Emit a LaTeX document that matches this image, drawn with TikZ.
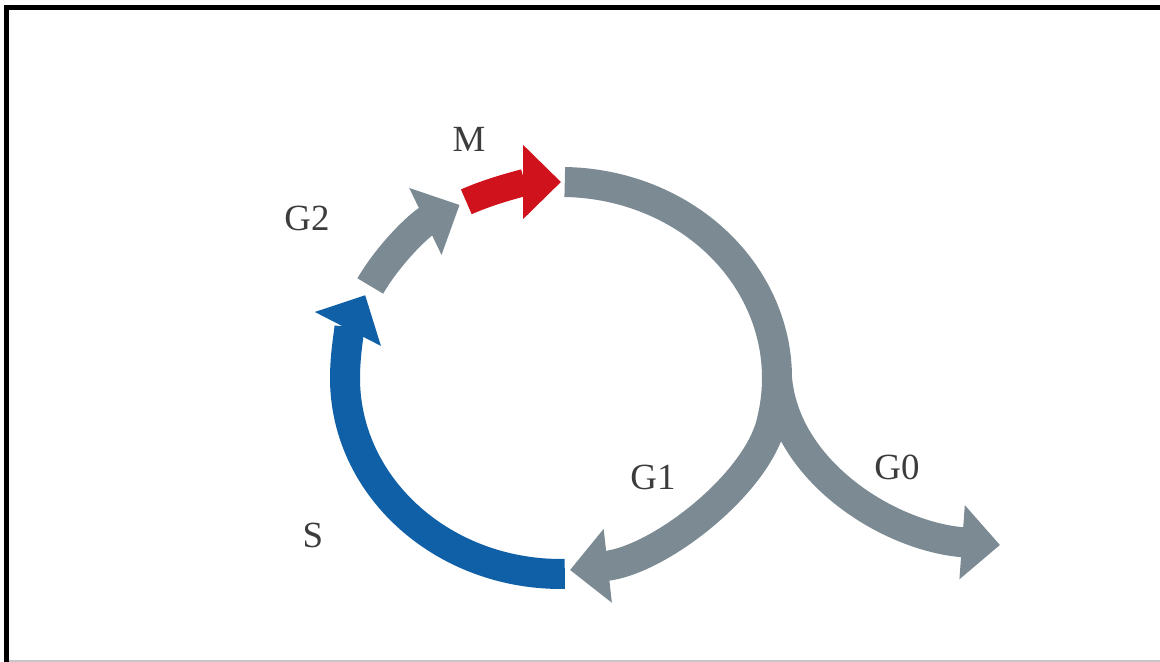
\documentclass[tikz,border=0pt]{standalone}
\usepackage{fontspec}
\setmainfont{Liberation Serif}
\usetikzlibrary{arrows.meta}

\definecolor{phasegray}{RGB}{124,139,147}
\definecolor{phaseblue}{RGB}{16,96,168}
\definecolor{phasered}{RGB}{208,18,28}
\definecolor{labelgray}{RGB}{60,60,60}

\begin{document}
\begin{tikzpicture}[x=0.02cm, y=0.02cm,
        band/.style={line width=0.6cm, -{Triangle[width=1.44cm,length=0.76cm]}},
        phase/.style={font=\fontsize{21}{25}\selectfont, text=labelgray}]
        \useasboundingbox (0,0) rectangle (1160,662);

        % Frame
        \draw[line width=0.1cm] (6.5,0) -- (6.5,654.5) -- (1160,654.5);
        \draw[gray!45, line width=0.04cm] (9,1) -- (1160,1);

        % Points on the cycle
        \coordinate (O) at (561,284);
        \path (O) ++(89:216 and 196) coordinate (g1start);
        \path (O) ++(0:216 and 196) coordinate (g0start);
        \path (O) ++(-89:216 and 196) coordinate (sstart);
        \path (O) ++(152:216 and 196) coordinate (g2start);
        \path (O) ++(116:216 and 196) coordinate (mstart);
        \coordinate (g1tip) at (570,92);
        \coordinate (g0tip) at (1000,117);

        % Nodes
        \node[phase] (M) at (469,523) {M};
        \node[phase] (G2) at (307,444) {G2};
        \node[phase] (S) at (313,127) {S};
        \node[phase] (G1) at (653,185) {G1};
        \node[phase] (G0) at (897,195) {G0};

        % Edges
        \draw[band, phasegray] (g1start) arc[start angle=89, end angle=-12, x radius=216, y radius=196]
            .. controls (760,180) and (660,102) .. (g1tip);
        \draw[band, phasegray] (g0start) .. controls (785,190) and (890,125) .. (g0tip);
        \draw[band, phaseblue] (sstart) arc[start angle=-89, end angle=-205, x radius=216, y radius=196];
        \draw[band, phasegray] (g2start) arc[start angle=152, end angle=118, x radius=216, y radius=196];
        \draw[band, phasered, line width=0.54cm] (mstart) arc[start angle=116, end angle=90, x radius=216, y radius=196];
    \end{tikzpicture}
\end{document}
